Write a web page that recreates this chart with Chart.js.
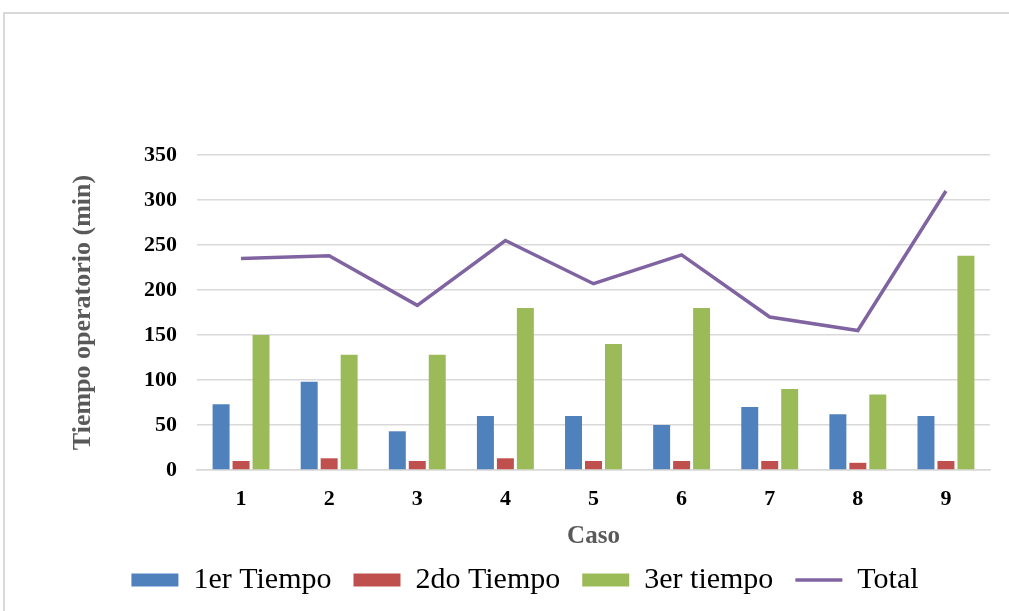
<!DOCTYPE html>
<html>
<head>
<meta charset="utf-8">
<script src="https://cdn.jsdelivr.net/npm/chart.js@4"></script>
<style>
  body { margin: 0; background: #fff; }
  #frame { position: absolute; left: 3px; top: 12px; width: 1100px; height: 700px;
           border-left: 2px solid #d9d9d9; border-top: 2px solid #d9d9d9; }
  #wrap { position: absolute; left: 0; top: 0; width: 1009px; height: 611px; }
</style>
</head>
<body>
<div id="frame"></div>
<div id="wrap"><canvas id="myChart"></canvas></div>
<script>
  const cases = ['1', '2', '3', '4', '5', '6', '7', '8', '9'];
  const primerTiempo = [73, 98, 43, 60, 60, 50, 70, 62, 60];
  const segundoTiempo = [10, 13, 10, 13, 10, 10, 10, 8, 10];
  const tercerTiempo = [150, 128, 128, 180, 140, 180, 90, 84, 238];
  const total = [235, 238, 183, 255, 207, 239, 170, 155, 310];

  const serif = 'Liberation Serif';
  Chart.defaults.font.family = serif;

  const barStyle = { barPercentage: 0.85, categoryPercentage: 0.68, borderWidth: 0, order: 1, pointStyle: 'rect' };

  new Chart(document.getElementById('myChart').getContext('2d'), {
    type: 'bar',
    data: {
      labels: cases,
      datasets: [
        Object.assign({ label: '1er Tiempo', data: primerTiempo, backgroundColor: '#4F81BD' }, barStyle),
        Object.assign({ label: '2do Tiempo', data: segundoTiempo, backgroundColor: '#C0504D' }, barStyle),
        Object.assign({ label: '3er tiempo', data: tercerTiempo, backgroundColor: '#9BBB59' }, barStyle),
        {
          type: 'line',
          label: 'Total',
          data: total,
          borderColor: '#8064A2',
          backgroundColor: '#8064A2',
          borderWidth: 3.5,
          pointRadius: 0,
          tension: 0,
          order: 0,
          pointStyle: 'line'
        }
      ]
    },
    options: {
      responsive: true,
      maintainAspectRatio: false,
      animation: false,
      layout: { padding: { top: 155, left: 60, right: 19, bottom: 6 } },
      plugins: {
        tooltip: { enabled: false },
        legend: {
          position: 'bottom',
          labels: {
            usePointStyle: true,
            pointStyleWidth: 47,
            boxHeight: 13,
            padding: 22,
            color: '#000',
            font: { family: serif, size: 30 },
            sort: (a, b) => a.datasetIndex - b.datasetIndex
          }
        }
      },
      scales: {
        x: {
          afterFit: (scale) => { scale.height = 73; },
          grid: { display: false, drawTicks: false },
          border: { display: true, color: '#d9d9d9', width: 1.5 },
          ticks: { color: '#000', padding: 16, font: { family: serif, size: 22, weight: 'bold' } },
          title: { display: true, text: 'Caso', color: '#595959', padding: { top: 0, bottom: -9 },
                   font: { family: serif, size: 25, weight: 'bold' } }
        },
        y: {
          min: 0,
          max: 350,
          afterFit: (scale) => { scale.width = 137; },
          grid: { color: '#d9d9d9', lineWidth: 1.5, drawTicks: false },
          border: { display: false },
          ticks: { stepSize: 50, color: '#000', padding: 20, font: { family: serif, size: 22, weight: 'bold' } },
          title: { display: true, text: 'Tiempo operatorio (min)', color: '#595959', padding: { top: 8, bottom: 0 },
                   font: { family: serif, size: 26, weight: 'bold' } }
        }
      }
    }
  });
</script>
</body>
</html>
